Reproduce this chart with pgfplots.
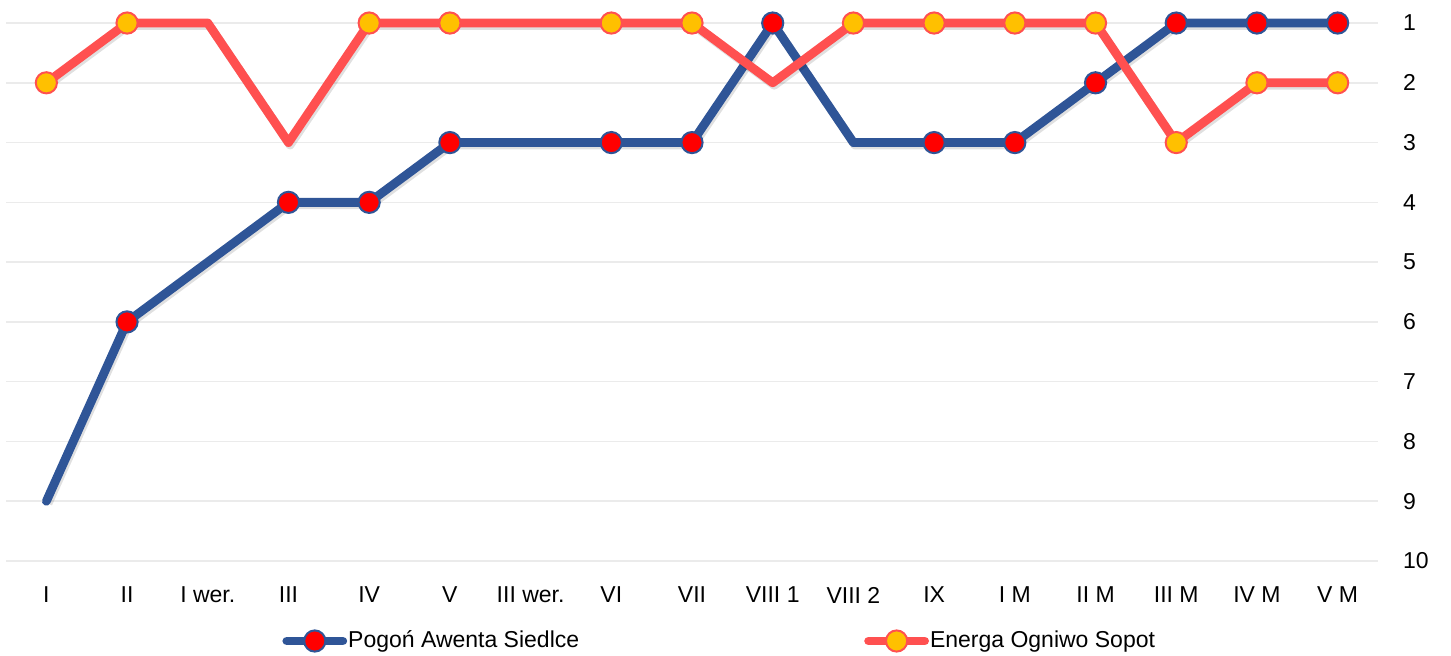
\documentclass[border=0pt]{standalone}
\usepackage{fontspec}
\setmainfont{Liberation Sans}
\usepackage{pgfplots}
\pgfplotsset{compat=1.18}
\definecolor{pblue}{HTML}{2F5597}
\definecolor{ered}{HTML}{FF5050}
\definecolor{myell}{HTML}{FFC000}
\definecolor{gridc}{HTML}{EBEBEB}
\begin{document}
\begin{tikzpicture}
\useasboundingbox (0,0) rectangle (725.5pt,-328pt);
\begin{axis}[
  at={(3pt,-280.5pt)}, anchor=south west,
  width=686pt, height=269pt, scale only axis,
  xmin=-0.5, xmax=16.5, ymin=1, ymax=10, y dir=reverse,
  clip=false,
  axis line style={draw=none},
  tick style={draw=none},
  xtick={0,...,16},
  xticklabels={I,II,I wer.,III,IV,V,III wer.,VI,VII,VIII 1,VIII 2,IX,I M,II M,III M,IV M,V M},
  ytick={1,...,10},
  yticklabel pos=right,
  ymajorgrids, major grid style={gridc, line width=0.75pt},
  tick label style={font=\fontsize{11.5}{14}\selectfont, text=black},
  /pgf/number format/assume math mode=true,
  yticklabel style={anchor=west, xshift=9pt},
  xticklabel style={anchor=north, yshift=-9.5pt},
  legend columns=2,
  legend style={draw=none, fill=none, at={(axis description cs:0.1968,-0.1487)}, anchor=west,
    font=\fontsize{11.5}{14}\selectfont, nodes={inner sep=0.5pt},
    /tikz/every even column/.append style={column sep=142pt}},
]
% shadows
\addplot[black, opacity=0.12, line width=4.4pt, line join=round, forget plot, xshift=0.8pt, yshift=-1.2pt]
  coordinates {(0,9)(1,6)(2,5)(3,4)(4,4)(5,3)(6,3)(7,3)(8,3)(9,1)(10,3)(11,3)(12,3)(13,2)(14,1)(15,1)(16,1)};
\addplot[pblue, line width=4.4pt, line join=round, line cap=round,
  legend image code/.code={\draw[pblue, line width=4.4pt, line cap=round] (0pt,0pt) -- (28pt,0pt);
    \filldraw[fill=red, draw=pblue, line width=1pt] (14pt,0pt) circle (5.3pt);}]
  coordinates {(0,9)(1,6)(2,5)(3,4)(4,4)(5,3)(6,3)(7,3)(8,3)(9,1)(10,3)(11,3)(12,3)(13,2)(14,1)(15,1)(16,1)};
\addlegendentry{Pogoń Awenta Siedlce}
\addplot[only marks, mark=*, mark size=5.3pt, mark options={fill=red, draw=pblue, line width=1pt}, forget plot]
  coordinates {(1,6)(3,4)(4,4)(5,3)(7,3)(8,3)(9,1)(11,3)(12,3)(13,2)(14,1)(15,1)(16,1)};
\addplot[black, opacity=0.12, line width=4.4pt, line join=round, forget plot, xshift=0.8pt, yshift=-1.2pt]
  coordinates {(0,2)(1,1)(2,1)(3,3)(4,1)(5,1)(6,1)(7,1)(8,1)(9,2)(10,1)(11,1)(12,1)(13,1)(14,3)(15,2)(16,2)};
\addplot[ered, line width=4.4pt, line join=round, line cap=round,
  legend image code/.code={\draw[ered, line width=4.4pt, line cap=round] (0pt,0pt) -- (28pt,0pt);
    \filldraw[fill=myell, draw=ered, line width=1pt] (14pt,0pt) circle (5.3pt);}]
  coordinates {(0,2)(1,1)(2,1)(3,3)(4,1)(5,1)(6,1)(7,1)(8,1)(9,2)(10,1)(11,1)(12,1)(13,1)(14,3)(15,2)(16,2)};
\addlegendentry{Energa Ogniwo Sopot}
\addplot[only marks, mark=*, mark size=5.3pt, mark options={fill=myell, draw=ered, line width=1pt}, forget plot]
  coordinates {(0,2)(1,1)(4,1)(5,1)(7,1)(8,1)(10,1)(11,1)(12,1)(13,1)(14,3)(15,2)(16,2)};
\end{axis}
\end{tikzpicture}
\end{document}
